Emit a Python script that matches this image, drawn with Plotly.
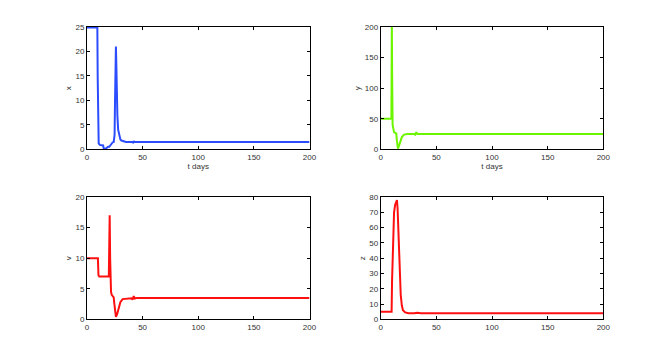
import plotly.graph_objects as go

# Values
x_t = [0, 9.3, 9.6, 10.0, 10.5, 11.5, 13, 14.5, 15, 16, 17, 18, 19, 20, 21, 22, 23, 24,
       24.8, 25.2, 25.6, 26.0, 26.4, 26.8, 27.3, 28, 29, 30, 31, 33, 35, 40, 41.5, 42, 42.5, 45, 200]
x_v = [24.9, 24.9, 15, 5, 1.2, 0.9, 0.8, 0.8, 0.2, 0.1, 0.2, 0.4, 0.5, 0.5, 0.8, 1.2, 1.4, 1.5,
       3, 10, 18, 21, 17, 11, 7, 4, 2.6, 2.0, 1.8, 1.6, 1.5, 1.5, 1.4, 1.7, 1.5, 1.5, 1.5]

y_t = [0, 9.6, 9.8, 10.0, 10.3, 10.7, 11.2, 12, 13, 14, 14.5, 15, 15.5, 16.5, 17.5, 19, 21, 24,
       30, 31, 32, 33, 34, 200]
y_v = [50, 50, 120, 210, 120, 40, 31, 28, 27, 26, 15, 2, 1, 6, 13, 20, 24, 25,
       25, 24, 28, 25, 25, 25]

v_t = [0, 9.8, 10.3, 11, 19.6, 20.0, 20.4, 20.8, 21.2, 21.6, 22.2, 23, 24, 24.6, 25.3, 26, 27,
       28, 29, 30, 32, 35, 40, 41, 42, 43, 45, 200]
v_v = [10, 10, 7.2, 7, 7, 12, 17, 10, 6, 4.5, 4, 3.8, 3.6, 2.5, 0.8, 0.4, 0.8,
       1.6, 2.3, 2.8, 3.3, 3.4, 3.45, 3.2, 3.8, 3.4, 3.5, 3.5]

z_t = [0, 9.8, 10.2, 11, 12, 13, 14, 14.6, 15.2, 16, 17, 18, 19, 20, 22, 25, 30, 33, 36, 40, 200]
z_v = [5, 5, 25, 55, 70, 75, 77.5, 78, 72, 55, 32, 16, 9, 6, 4.5, 4, 4, 4.3, 4, 4, 4]

panels = [
    # t, values, colour, y label, y range, y tick step, show "t days"
    (x_t, x_v, "#2b4cff", "x", [0, 25], 5, True),
    (y_t, y_v, "#6cf500", "y", [0, 200], 50, True),
    (v_t, v_v, "#ff1010", "v", [0, 20], 5, False),
    (z_t, z_v, "#ff1010", "z", [0, 80], 10, False),
]

# page body has an 8px margin, so the figure is 8px smaller each way
W, H = 659, 351
xdoms = [[79 / W, 301.5 / W], [372.7 / W, 595.3 / W]]
ydoms = [[1 - 141.3 / H, 1 - 19 / H], [1 - 311.3 / H, 1 - 189 / H]]

fig = go.Figure()
font = dict(family="Liberation Sans, Arial, sans-serif", size=8, color="#333")

for i, (t, vals, col, lab, yr, dt, show_t) in enumerate(panels):
    n = "" if i == 0 else str(i + 1)
    fig.add_trace(go.Scatter(x=t, y=vals, mode="lines", line=dict(color=col, width=2),
                             xaxis="x" + n, yaxis="y" + n, showlegend=False))
    axis_common = dict(showgrid=False, zeroline=False, showline=True, linecolor="black",
                       linewidth=1, mirror="ticks", ticks="inside", ticklen=3,
                       tickcolor="black", tickfont=font, automargin=False)
    fig.layout["xaxis" + n] = dict(domain=xdoms[i % 2], anchor="y" + n, range=[0, 200],
                                   dtick=50, title=dict(text="t days" if show_t else "",
                                                        font=font, standoff=0),
                                   **axis_common)
    fig.layout["yaxis" + n] = dict(domain=ydoms[i // 2], anchor="x" + n, range=yr, dtick=dt,
                                   title=dict(text=lab, font=font, standoff=2),
                                   **axis_common)

fig.update_layout(width=W, height=H, autosize=False,
                  margin=dict(l=0, r=0, t=0, b=0),
                  paper_bgcolor="white", plot_bgcolor="white", font=font)

fig.write_html("out.html")
